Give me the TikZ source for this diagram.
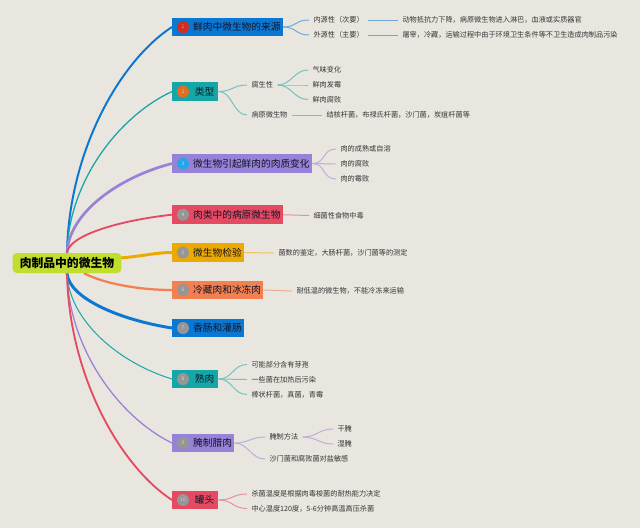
\documentclass[tikz,border=0pt]{standalone}
\usepackage{fontspec}
\setmainfont{Noto Sans CJK SC}
\usetikzlibrary{calc, backgrounds}
\definecolor{bgpaper}{RGB}{233,229,223}
\definecolor{tblue}{RGB}{10,120,210}
\definecolor{tteal}{RGB}{22,166,168}
\definecolor{tpurple}{RGB}{150,130,215}
\definecolor{tred}{RGB}{228,75,98}
\definecolor{tamber}{RGB}{236,170,0}
\definecolor{torange}{RGB}{242,128,80}
\definecolor{rootgreen}{RGB}{192,222,45}
\definecolor{badgered}{RGB}{210,45,30}
\definecolor{badgeorange}{RGB}{225,110,35}
\definecolor{badgesky}{RGB}{40,165,230}
\definecolor{badgegray}{RGB}{150,150,150}
\definecolor{inktopic}{RGB}{20,20,40}
\definecolor{inkleaf}{RGB}{55,55,55}

\begin{document}
\begin{tikzpicture}[x=0.025cm, y=-0.025cm,
  rootbox/.style={fill=rootgreen, rounded corners=3pt, minimum width=2.72cm,
                  minimum height=0.5cm, inner sep=0pt,
                  font=\fontsize{8.4}{10}\selectfont\bfseries, text=black},
  topic/.style={fill=#1, anchor=west, minimum width=1.15cm, minimum height=0.47cm,
                inner xsep=1.5pt, inner ysep=0pt,
                font=\fontsize{6.9}{8}\selectfont, text=inktopic},
  badge/.style={circle, fill=#1, minimum size=0.3cm, inner sep=0pt,
                font=\fontsize{3.5}{4}\selectfont, text=white!60!#1},
  leaf/.style={anchor=west, inner xsep=3pt, inner ysep=1pt,
               font=\fontsize{5.1}{6}\selectfont, text=inkleaf},
  twig/.style={draw=#1!55!bgpaper, line width=0.7pt},
]
\useasboundingbox (0,0) rectangle (640,528);
\begin{scope}[on background layer]
  \fill[bgpaper] (0,0) rectangle (640,528);
\end{scope}

%% Root
\node[rootbox] (root) at (67,263) {肉制品中的微生物};

%% Main topics with their numbered badges
\foreach \i/\cy/\col/\bcol/\txt in {
    1/27/tblue/badgered/鲜肉中微生物的来源,
    2/91.5/tteal/badgeorange/类型,
    3/163.5/tpurple/badgesky/微生物引起鲜肉的肉质变化,
    4/214.7/tred/badgegray/肉类中的病原微生物,
    5/252.5/tamber/badgegray/微生物检验,
    6/290/torange/badgegray/冷藏肉和冰冻肉,
    7/328/tblue/badgegray/香肠和灌肠,
    8/379/tteal/badgegray/熟肉,
    9/443/tpurple/badgegray/腌制腊肉,
    10/500/tred/badgegray/罐头}{
  \node[topic=\col] (t\i) at (172,\cy) {\hspace{0.47cm}\color{inktopic}\txt};
  \node[badge=\bcol] (b\i) at (183,\cy) {\i};
}

%% 1: sources
\node[leaf] (s11) at (309,20) {内源性（次要）};
\node[leaf] (s12) at (309,35) {外源性（主要）};
\node[leaf] (l11) at (398,20) {动物抵抗力下降，病原微生物进入淋巴，血液或实质器官};
\node[leaf] (l12) at (398,35) {屠宰，冷藏，运输过程中由于环境卫生条件等不卫生造成肉制品污染};

%% 2: types
\node[leaf] (s21) at (247,85) {腐生性};
\node[leaf] (s22) at (247,115) {病原微生物};
\node[leaf] (l21) at (308,70) {气味变化};
\node[leaf] (l22) at (308,85) {鲜肉发霉};
\node[leaf] (l23) at (308,99.5) {鲜肉腐败};
\node[leaf] (l24) at (322,115) {结核杆菌，布禄氏杆菌，沙门菌，炭疽杆菌等};

%% 3: quality changes
\node[leaf] (l31) at (336,149) {肉的成熟或自溶};
\node[leaf] (l32) at (336,164) {肉的腐败};
\node[leaf] (l33) at (336,179) {肉的霉败};

%% 4 to 6: single notes
\node[leaf] (l41) at (309,215.5) {细菌性食物中毒};
\node[leaf] (l51) at (274,253) {菌数的鉴定，大肠杆菌，沙门菌等的测定};
\node[leaf] (l61) at (292,291) {耐低温的微生物，不能冷冻来运输};

%% 8: cooked meat
\node[leaf] (l81) at (247,364.5) {可能部分含有芽孢};
\node[leaf] (l82) at (247,379.5) {一些菌在加热后污染};
\node[leaf] (l83) at (247,394.5) {棒状杆菌，真菌，青霉};

%% 9: cured meat
\node[leaf] (s91) at (265,437) {腌制方法};
\node[leaf] (s92) at (265,459) {沙门菌和腐败菌对盐敏感};
\node[leaf] (l91) at (333,429) {干腌};
\node[leaf] (l92) at (333,444) {湿腌};

%% 10: cans
\node[leaf] (l101) at (247,494) {杀菌温度是根据肉毒梭菌的耐热能力决定};
\node[leaf] (l102) at (247,508.5) {中心温度120度，5-6分钟高温高压杀菌};

\begin{scope}[on background layer]
  %% root to the upper topics
  \foreach \i/\cy/\col/\lw in {1/27/tblue/1.4pt, 2/91.5/tteal/0.9pt,
                               3/163.5/tpurple/1.9pt, 4/214.7/tred/1.3pt}{
    \draw[\col, line width=\lw] (root.north)
      .. controls (69,{252-(252-\cy)*0.45}) and (120,{\cy+(252-\cy)*0.15}) .. (t\i.west);
  }
  %% root to the middle topics
  \draw[tamber, line width=2.1pt] ($(root.east)+(-2,-5)$)
    .. controls (145,256) and (155,252.5) .. (t5.west);
  \draw[torange, line width=1.6pt] ($(root.south)+(17,0)$)
    .. controls (105,284) and (140,290) .. (t6.west);
  %% root to the lower topics
  \foreach \i/\cy/\col/\lw in {7/328/tblue/2.1pt, 8/379/tteal/0.7pt,
                               9/443/tpurple/0.9pt, 10/500/tred/1.3pt}{
    \draw[\col, line width=\lw] (root.south)
      .. controls (69,{274+(\cy-274)*0.45}) and (120,{\cy-(\cy-274)*0.15}) .. (t\i.west);
  }

  %% twigs
  \foreach \j in {1,2}{
    \draw[twig=tblue] (t1.east) .. controls +(14,0) and +(-14,0) .. (s1\j.west);
    \draw[twig=tblue] (s1\j.east) -- (l1\j.west);
  }
  \foreach \j in {1,2}
    \draw[twig=tteal] (t2.east) .. controls +(14,0) and +(-14,0) .. (s2\j.west);
  \foreach \j in {1,2,3}
    \draw[twig=tteal] (s21.east) .. controls +(14,0) and +(-14,0) .. (l2\j.west);
  \draw[twig=tteal] (s22.east) -- (l24.west);
  \foreach \j in {1,2,3}
    \draw[twig=tpurple] (t3.east) .. controls +(14,0) and +(-14,0) .. (l3\j.west);
  \draw[twig=tred] (t4.east) -- (l41.west);
  \draw[twig=tamber] (t5.east) -- (l51.west);
  \draw[twig=torange] (t6.east) -- (l61.west);
  \foreach \j in {1,2,3}
    \draw[twig=tteal] (t8.east) .. controls +(14,0) and +(-14,0) .. (l8\j.west);
  \foreach \j in {1,2}{
    \draw[twig=tpurple] (t9.east) .. controls +(14,0) and +(-14,0) .. (s9\j.west);
    \draw[twig=tpurple] (s91.east) .. controls +(14,0) and +(-14,0) .. (l9\j.west);
    \draw[twig=tred] (t10.east) .. controls +(14,0) and +(-14,0) .. (l10\j.west);
  }
\end{scope}
\end{tikzpicture}
\end{document}
